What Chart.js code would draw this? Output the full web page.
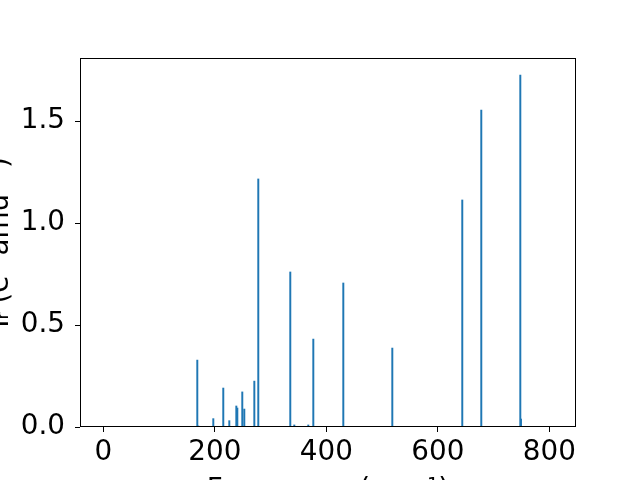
<!DOCTYPE html>
<html>
<head>
<meta charset="utf-8">
<script src="https://cdn.jsdelivr.net/npm/chart.js@4/dist/chart.umd.min.js"></script>
<style>
  html, body { margin: 0; padding: 0; background: #fff; overflow: hidden; }
  #wrap { position: relative; width: 640px; height: 480px; overflow: hidden; }
  #irChart { position: absolute; left: -20px; top: 0; }
</style>
</head>
<body>
<div id="wrap"><canvas id="irChart" width="660" height="520"></canvas></div>
<script>
// frequencies (cm^-1) and IR intensities
const frequencies = [168.6, 170.4, 197.3, 215.2, 226.0, 238.6, 240.4, 249.3, 252.9, 270.9,
                     278.0, 335.4, 342.6, 367.7, 376.7, 430.5, 518.4, 643.9, 678.0, 748.0, 749.2];
const intensities = [0.328, 0.005, 0.041, 0.191, 0.031, 0.103, 0.093, 0.172, 0.088, 0.225,
                     1.216, 0.760, 0.010, 0.010, 0.431, 0.706, 0.387, 1.113, 1.554, 1.725, 0.039];
const xTicks = [0, 200, 400, 600, 800];
const yTicks = [0.0, 0.5, 1.0, 1.5];

const fontFamily = '"DejaVu Sans", sans-serif';
const blue = '#1f77b4';

// 枠線 (matplotlib風の四辺)
const framePlugin = {
    id: 'frame',
    afterDraw(chart) {
        const {ctx, chartArea: a} = chart;
        ctx.save();
        ctx.strokeStyle = '#000';
        ctx.lineWidth = 1;
        ctx.strokeRect(Math.round(a.left) + 0.5, Math.round(a.top) + 0.5,
                       Math.round(a.right - a.left) - 1, Math.round(a.bottom - a.top) - 1);
        ctx.restore();
    }
};

const ctx = document.getElementById('irChart').getContext('2d');

const irChart = new Chart(ctx, {
    type: 'bar',
    data: {
        datasets: [{
            data: frequencies.map((f, i) => ({x: f, y: intensities[i]})),
            backgroundColor: blue,
            borderWidth: 0,
            barThickness: 1.3,
        }]
    },
    options: {
        responsive: false,
        animation: false,
        devicePixelRatio: 1,
        layout: { padding: { left: 0, top: 58, right: 64, bottom: 8.3 } },
        plugins: {
            legend: { display: false },
            tooltip: { enabled: false },
        },
        scales: {
            x: {
                type: 'linear',
                offset: false,
                min: -41.8,
                max: 847.9,
                afterFit(scale) { scale.height = 84.7; },
                afterBuildTicks(scale) { scale.ticks = xTicks.map(v => ({value: v})); },
                grid: { offset: false, drawOnChartArea: false, drawTicks: true, tickLength: 5, color: '#000' },
                border: { display: false },
                ticks: {
                    color: '#000',
                    padding: 4,
                    maxRotation: 0,
                    font: { family: fontFamily, size: 27.8 },
                    callback: v => String(v),
                },
                title: {
                    display: true,
                    text: 'Frequency (cm⁻¹)',
                    color: '#000',
                    font: { family: fontFamily, size: 27.8 },
                },
            },
            y: {
                min: 0,
                max: 1.809,
                afterFit(scale) { scale.width = 100; },
                afterBuildTicks(scale) { scale.ticks = yTicks.map(v => ({value: v})); },
                grid: { drawOnChartArea: false, drawTicks: true, tickLength: 5, color: '#000' },
                border: { display: false },
                ticks: {
                    color: '#000',
                    padding: 10,
                    font: { family: fontFamily, size: 27.8 },
                    callback: v => Number(v).toFixed(1),
                },
                title: {
                    display: true,
                    text: 'Iᵣ (e² amu⁻¹)',
                    color: '#000',
                    font: { family: fontFamily, size: 27.8 },
                },
            }
        }
    },
    plugins: [framePlugin],
});
</script>
</body>
</html>
